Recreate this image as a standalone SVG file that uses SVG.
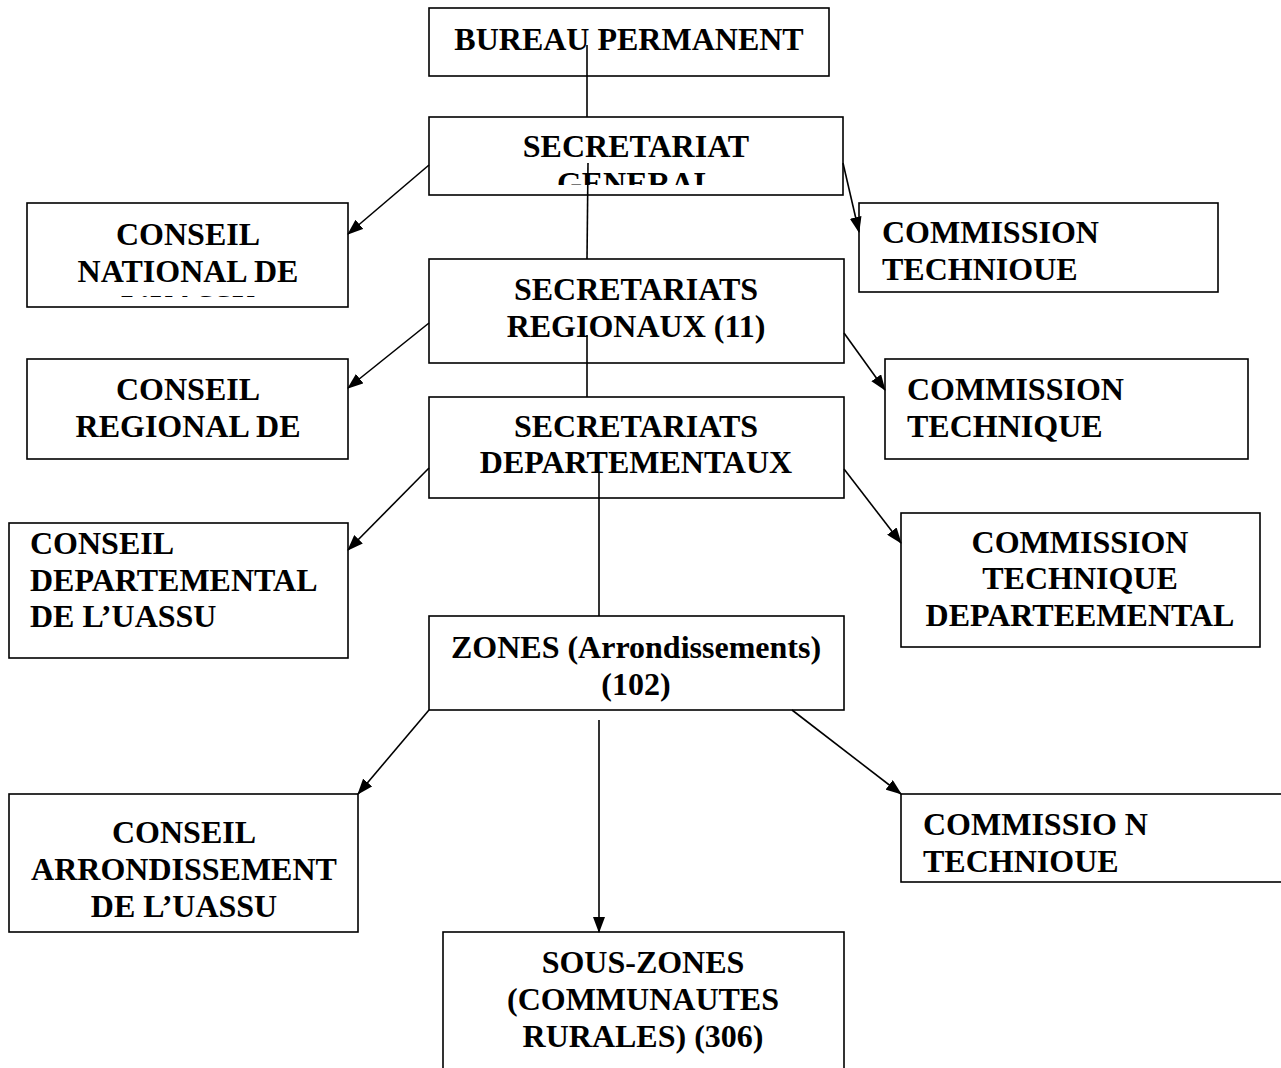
<svg xmlns="http://www.w3.org/2000/svg" width="1281" height="1068" viewBox="0 0 1281 1068">
<style>
.box{fill:#fff;stroke:#000;stroke-width:1.6}
.t{font-family:"Liberation Serif","Times New Roman",serif;font-weight:bold;font-size:32px;fill:#000}
.c{text-anchor:middle}
.ln{stroke:#000;stroke-width:1.6;fill:none}
.ar{stroke:#000;stroke-width:1.6;fill:none;marker-end:url(#ah)}
</style>
<defs>
<marker id="ah" markerWidth="16" markerHeight="12" refX="15" refY="6" orient="auto" markerUnits="userSpaceOnUse">
<path d="M0,0 L16,6 L0,12 Z" fill="#000"/>
</marker>
<clipPath id="clipSG"><rect x="429" y="117" width="414" height="68"/></clipPath>
<clipPath id="clipCN"><rect x="27" y="203" width="321" height="94"/></clipPath>
</defs>
<rect width="1281" height="1068" fill="#fff"/>

<g id="bureau">
<rect class="box" x="429" y="8" width="400" height="68"/>
<text class="t c" x="629" y="50">BUREAU PERMANENT</text>
</g>
<g id="sec-general">
<rect class="box" x="429" y="117" width="414" height="78"/>
<g clip-path="url(#clipSG)">
<text class="t c" x="636" y="157">SECRETARIAT</text>
<text class="t c" x="636" y="194">GENERAL</text>
</g>
</g>
<g id="conseil-national">
<rect class="box" x="27" y="203" width="321" height="104"/>
<g clip-path="url(#clipCN)">
<text class="t c" x="188" y="245">CONSEIL</text>
<text class="t c" x="188" y="282">NATIONAL DE</text>
<text class="t c" x="188" y="317">L’UASSU</text>
</g>
</g>
<g id="commission-1">
<rect class="box" x="859" y="203" width="359" height="89"/>
<text class="t" x="882" y="243">COMMISSION</text>
<text class="t" x="882" y="280">TECHNIOUE</text>
</g>
<g id="sec-regionaux">
<rect class="box" x="429" y="259" width="415" height="104"/>
<text class="t c" x="636" y="300">SECRETARIATS</text>
<text class="t c" x="636" y="337">REGIONAUX (11)</text>
</g>
<g id="conseil-regional">
<rect class="box" x="27" y="359" width="321" height="100"/>
<text class="t c" x="188" y="400">CONSEIL</text>
<text class="t c" x="188" y="437">REGIONAL DE</text>
</g>
<g id="commission-2">
<rect class="box" x="885" y="359" width="363" height="100"/>
<text class="t" x="907" y="400">COMMISSION</text>
<text class="t" x="907" y="437">TECHNIQUE</text>
</g>
<g id="sec-departementaux">
<rect class="box" x="429" y="397" width="415" height="101"/>
<text class="t c" x="636" y="437">SECRETARIATS</text>
<text class="t c" x="636" y="473">DEPARTEMENTAUX</text>
</g>
<g id="conseil-departemental">
<rect class="box" x="9" y="523" width="339" height="135"/>
<text class="t" x="30" y="554">CONSEIL</text>
<text class="t" x="30" y="591">DEPARTEMENTAL</text>
<text class="t" x="30" y="627">DE L’UASSU</text>
</g>
<g id="commission-3">
<rect class="box" x="901" y="513" width="359" height="134"/>
<text class="t c" x="1080" y="553">COMMISSION</text>
<text class="t c" x="1080" y="589">TECHNIQUE</text>
<text class="t c" x="1080" y="626">DEPARTEEMENTAL</text>
</g>
<g id="zones">
<rect class="box" x="429" y="616" width="415" height="94"/>
<text class="t c" x="636" y="658">ZONES (Arrondissements)</text>
<text class="t c" x="636" y="695">(102)</text>
</g>
<g id="conseil-arrondissement">
<rect class="box" x="9" y="794" width="349" height="138"/>
<text class="t c" x="184" y="843">CONSEIL</text>
<text class="t c" x="184" y="880">ARRONDISSEMENT</text>
<text class="t c" x="184" y="917">DE L’UASSU</text>
</g>
<g id="commission-4">
<rect class="box" x="901" y="794" width="400" height="88"/>
<text class="t" x="923" y="835">COMMISSIO N</text>
<text class="t" x="923" y="872">TECHNIOUE</text>
</g>
<g id="sous-zones">
<rect class="box" x="443" y="932" width="401" height="150"/>
<text class="t c" x="643" y="973">SOUS-ZONES</text>
<text class="t c" x="643" y="1010">(COMMUNAUTES</text>
<text class="t c" x="643" y="1047">RURALES) (306)</text>
</g>

<g id="connectors">
<line class="ln" x1="587" y1="45" x2="587" y2="117"/>
<line class="ln" x1="588" y1="163" x2="587" y2="259"/>
<line class="ln" x1="587" y1="335" x2="587" y2="397"/>
<line class="ln" x1="599" y1="473" x2="599" y2="616"/>
<line class="ar" x1="429" y1="165" x2="348" y2="234"/>
<line class="ar" x1="843" y1="163" x2="859" y2="232"/>
<line class="ar" x1="429" y1="323" x2="348" y2="388"/>
<line class="ar" x1="844" y1="333" x2="885" y2="390"/>
<line class="ar" x1="429" y1="468" x2="348" y2="550"/>
<line class="ar" x1="844" y1="469" x2="901" y2="543"/>
<line class="ar" x1="429" y1="710" x2="358" y2="794"/>
<line class="ar" x1="792" y1="710" x2="901" y2="794"/>
<line class="ar" x1="599" y1="720" x2="599" y2="932"/>
</g>
</svg>
